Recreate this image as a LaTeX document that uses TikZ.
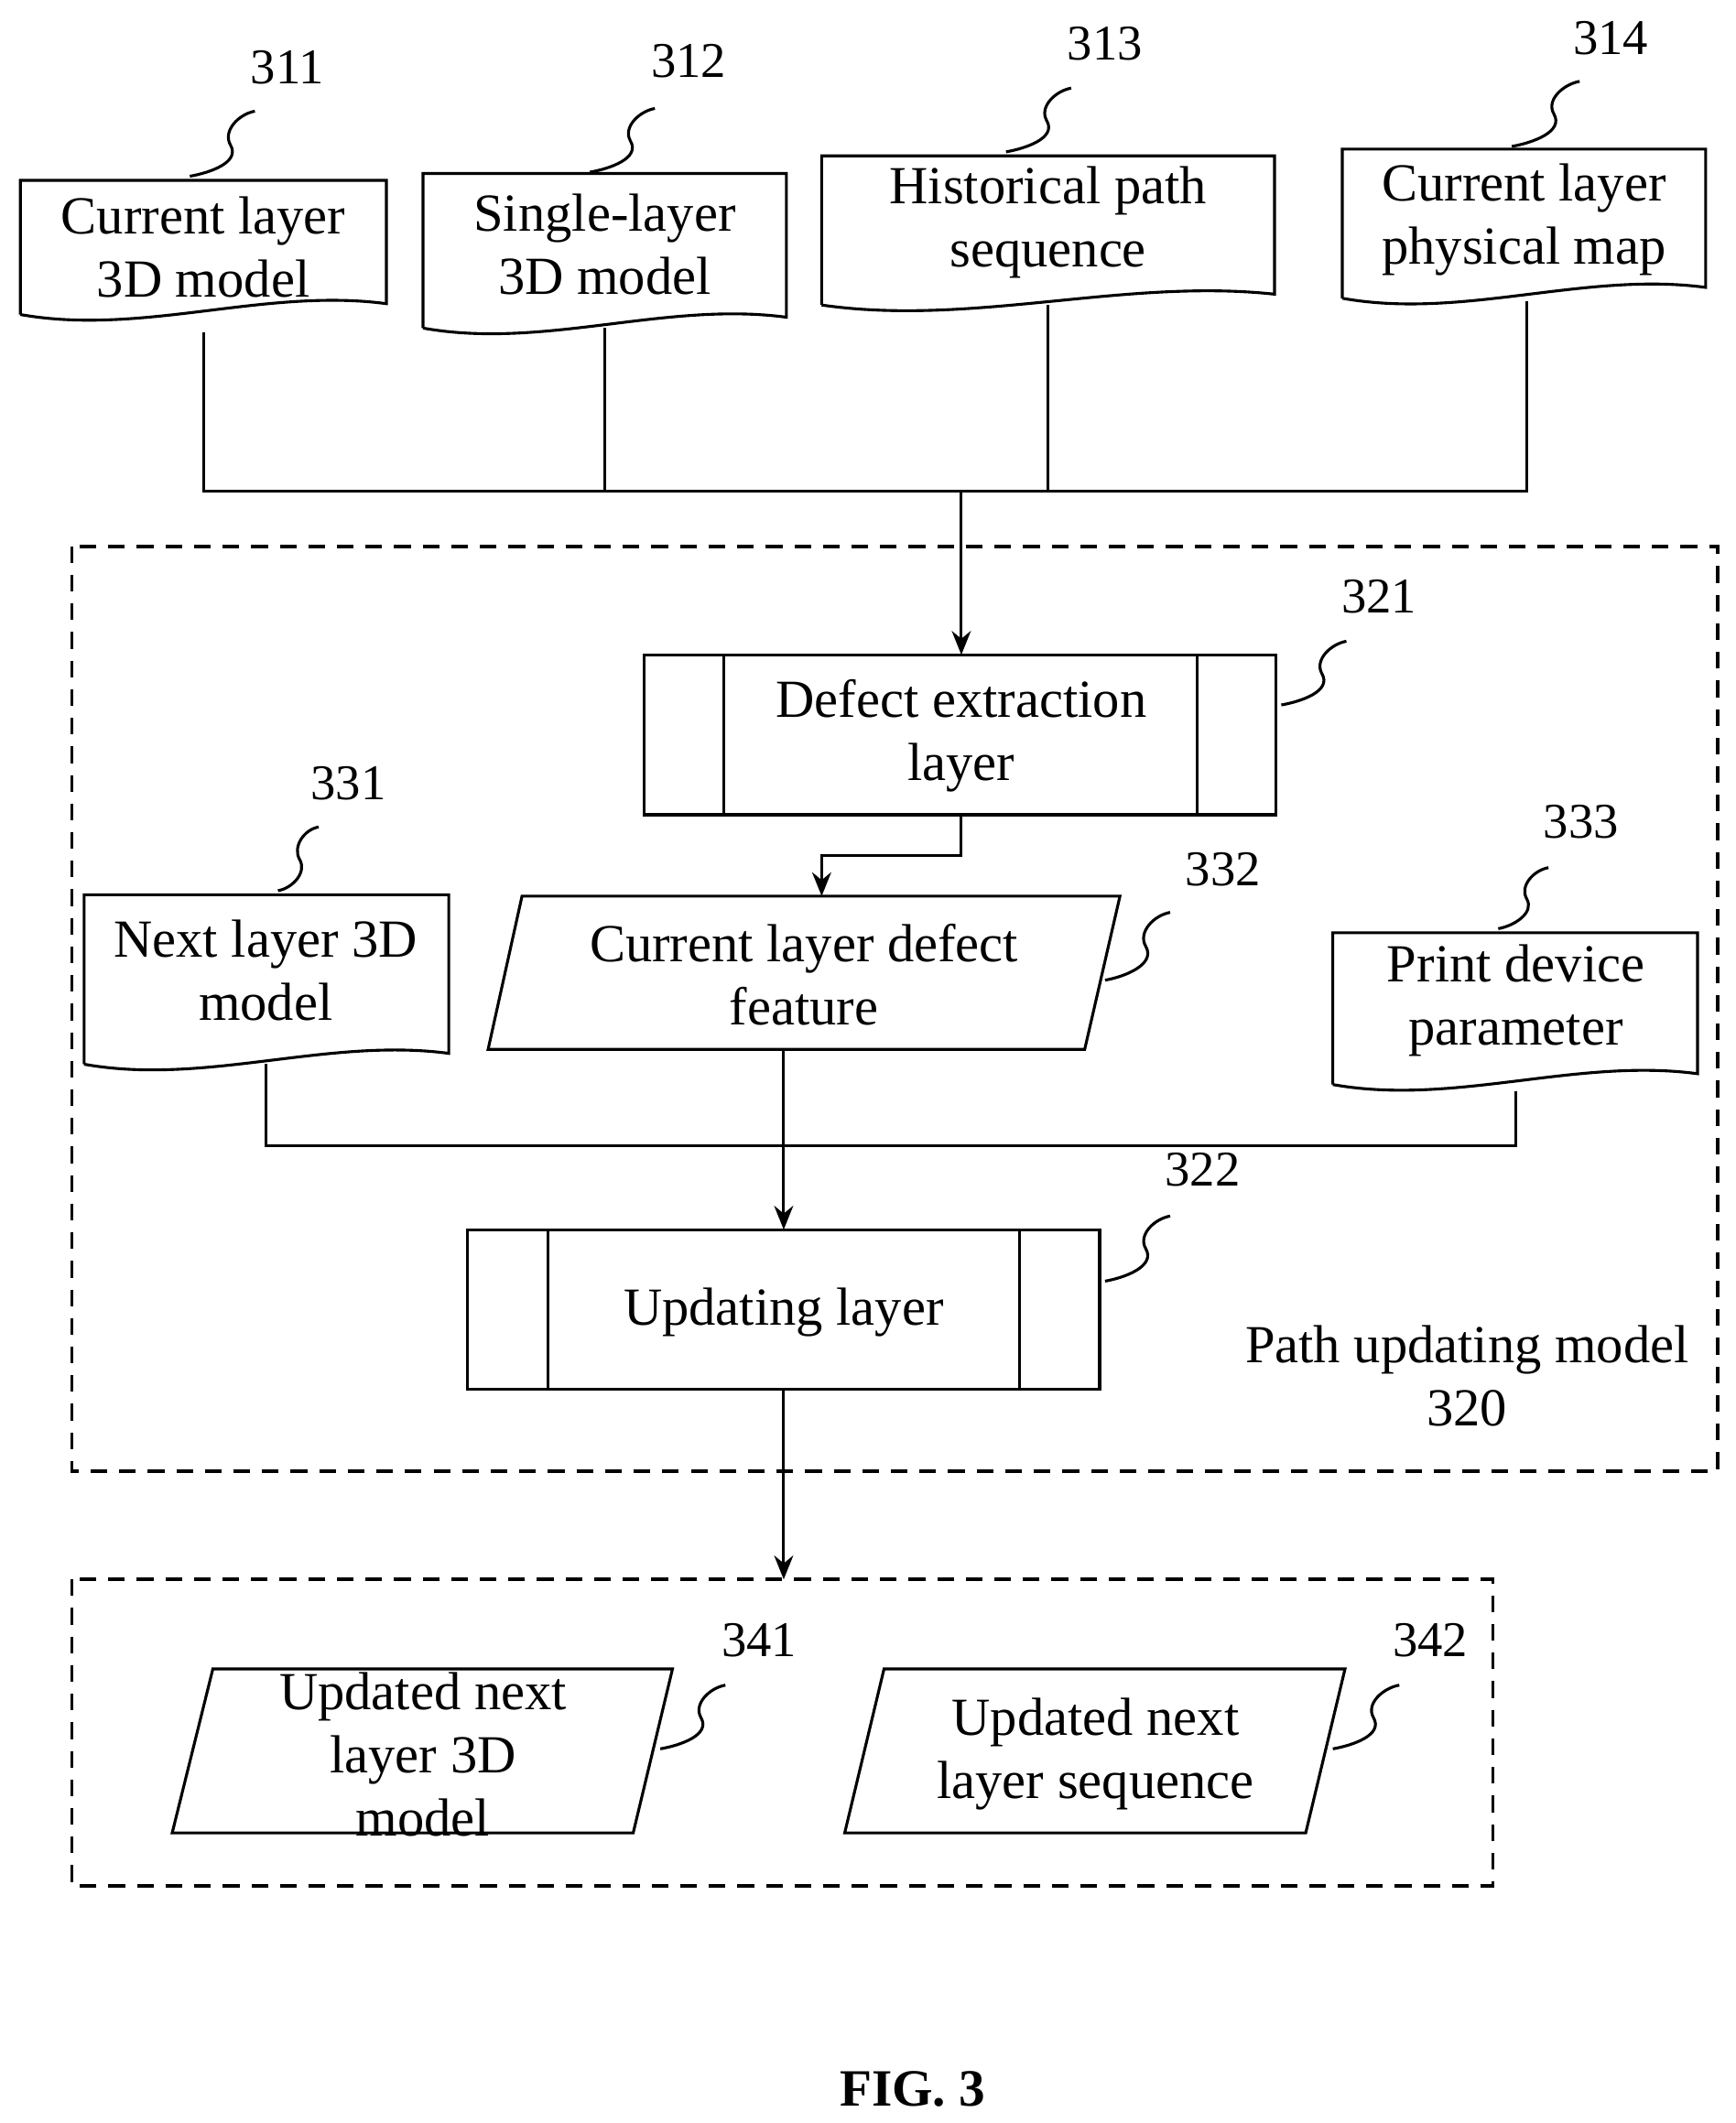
\documentclass[tikz,border=0pt]{standalone}
\usepackage{fontspec}
\setmainfont{Liberation Serif}
\usetikzlibrary{arrows.meta}
\begin{document}
\begin{tikzpicture}[x=0.02cm,y=-0.02cm,
  ln/.style={line width=1.2pt},
  arr/.style={ln,-{Stealth[length=10pt,width=8pt]}},
  dsh/.style={line width=1.4pt,dash pattern=on 7pt off 5pt},
  txt/.style={font=\fontsize{22.5}{26.5}\selectfont,align=center},
  num/.style={font=\fontsize{21}{25}\selectfont}]
\useasboundingbox (0,0) rectangle (1280,1566);
\newcommand\docshape[4]{%
  \pgfmathsetmacro\dA{#2-(#2-#1)/3}\pgfmathsetmacro\dB{#1+(#2-#1)/3}%
  \pgfmathsetmacro\yA{#4-8}\pgfmathsetmacro\yB{#4-20}\pgfmathsetmacro\yC{#4+16}%
  \draw[ln] (#1,#4) -- (#1,#3) -- (#2,#3) -- (#2,\yA) .. controls (\dA,\yB) and (\dB,\yC) .. (#1,#4);}
\docshape{15}{285}{133}{232}
\docshape{312}{580}{128}{242}
\docshape{606}{940}{115}{225}
\docshape{990}{1258}{110}{220}
\docshape{62}{331}{660}{785}
\docshape{983}{1252}{688}{800}
\node[txt] (n311) at (150,182) {Current layer\\3D model};
\node[txt] (n312) at (446,180) {Single-layer\\3D model};
\node[txt] (n313) at (773,164) {Historical path\\sequence};
\node[txt] (n314) at (1124,162) {Current layer\\physical map};
\node[txt] (n331) at (196,716) {Next layer 3D\\model};
\node[txt] (n333) at (1118,738) {Print device\\parameter};
\coordinate (b311) at (150,245); \coordinate (b312) at (446,242);
\coordinate (b313) at (773,225); \coordinate (b314) at (1126,222);
\draw[ln] (b311) -- (150,362) -- (1126,362) -- (b314) (b312) -- (446,362) (b313) -- (773,362);
\coordinate (j1) at (709,362);
\draw[dsh] (53,403) rectangle (1267,1085);
\draw[dsh] (53,1165) rectangle (1101,1391);
\draw[ln] (475,483) rectangle (941,601) (534,483) -- (534,601) (883,483) -- (883,601);
\node[txt] (n321) at (709,543) {Defect extraction\\layer};
\draw[arr] (j1) -- (709,483);
\draw[ln] (385,661) -- (826,661) -- (800,774) -- (360,774) -- cycle;
\node[txt] (n332) at (593,719) {Current layer defect\\feature};
\draw[arr] (709,601) -- (709,631) -- (606,631) -- (606,661);
\draw[ln] (196,785) -- (196,845) -- (1118,845) -- (1118,805);
\draw[arr] (578,774) -- (578,907);
\draw[ln] (345,907) rectangle (811,1025) (404,907) -- (404,1025) (752,907) -- (752,1025);
\node[txt] (n322) at (578,968) {Updating layer};
\node[txt] (n320) at (1082,1015) {Path updating model\\320};
\draw[arr] (578,1025) -- (578,1165);
\draw[ln] (157,1231) -- (496,1231) -- (467,1352) -- (127,1352) -- cycle;
\node[txt] (n341) at (312,1294) {Updated next\\layer 3D\\model};
\draw[ln] (652,1231) -- (992,1231) -- (963,1352) -- (623,1352) -- cycle;
\node[txt] (n342) at (808,1294) {Updated next\\layer sequence};
\node[num] at (212,50) {311}; \node[num] at (508,45) {312};
\node[num] at (815,32) {313}; \node[num] at (1188,28) {314};
\node[num] at (1017,440) {321}; \node[num] at (257,578) {331};
\node[num] at (902,641) {332}; \node[num] at (1166,606) {333};
\node[num] at (887,863) {322}; \node[num] at (560,1210) {341};
\node[num] at (1055,1210) {342};
\draw[ln] (140,130) to[out=10,in=-60] (170,107) to[out=120,in=190] (188,82);
\draw[ln] (435,127) to[out=10,in=-60] (465,104) to[out=120,in=190] (483,80);
\draw[ln] (742,112) to[out=10,in=-60] (772,89) to[out=120,in=190] (790,65);
\draw[ln] (1115,108) to[out=10,in=-60] (1146,84) to[out=120,in=190] (1165,60);
\draw[ln] (945,520) to[out=10,in=-60] (975,497) to[out=120,in=190] (993,473);
\draw[ln] (205,657) to[out=10,in=-60] (221,634) to[out=120,in=190] (235,610);
\draw[ln] (815,723) to[out=10,in=-60] (845,698) to[out=120,in=190] (863,673);
\draw[ln] (1105,685) to[out=10,in=-60] (1126,663) to[out=120,in=190] (1142,640);
\draw[ln] (815,945) to[out=10,in=-60] (845,921) to[out=120,in=190] (863,897);
\draw[ln] (487,1290) to[out=10,in=-60] (517,1267) to[out=120,in=190] (535,1243);
\draw[ln] (983,1290) to[out=10,in=-60] (1013,1267) to[out=120,in=190] (1032,1243);
\node[font=\fontsize{22}{26}\selectfont\bfseries] (fig) at (673,1541) {FIG. 3};
\end{tikzpicture}
\end{document}
